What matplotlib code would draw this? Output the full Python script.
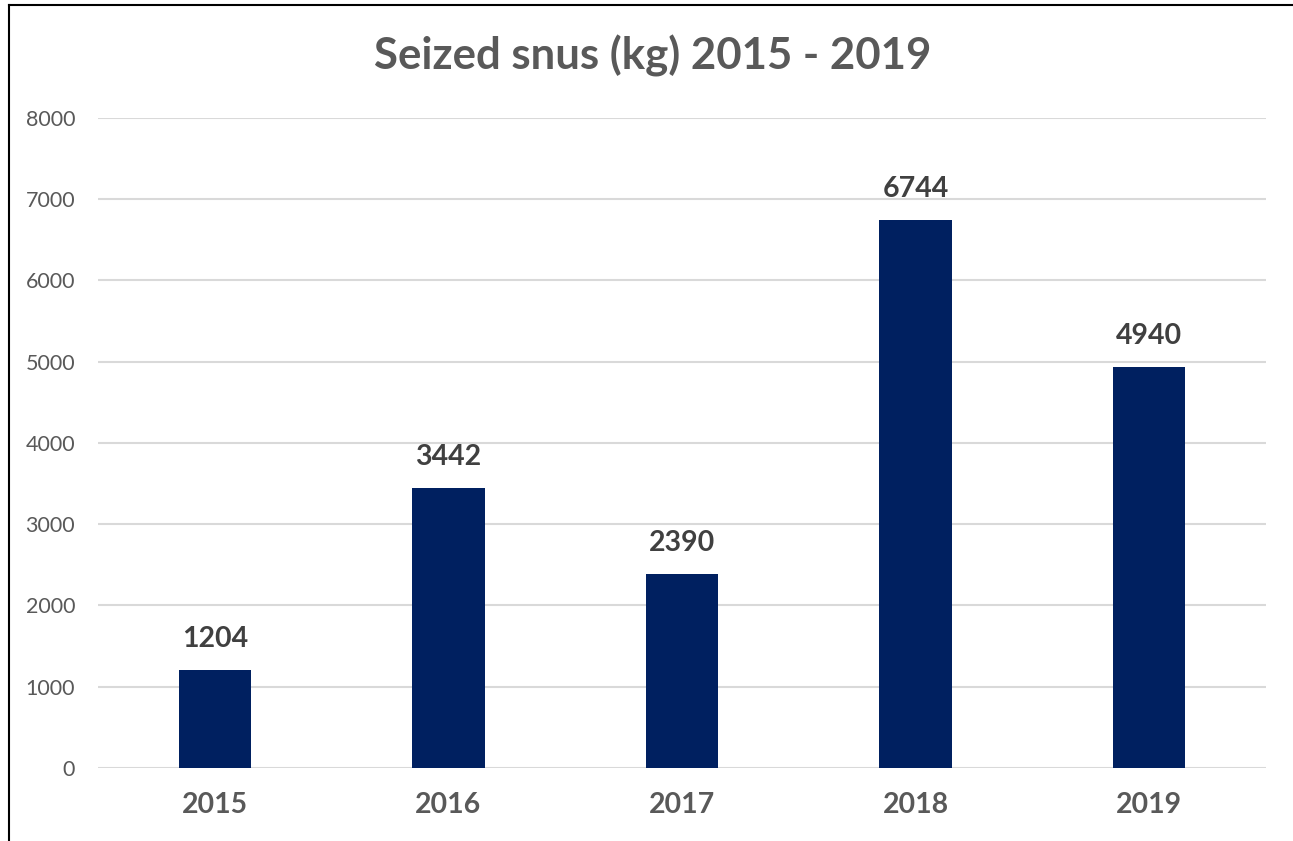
import matplotlib.pyplot as plt
from matplotlib.lines import Line2D

years = ["2015", "2016", "2017", "2018", "2019"]
seized_kg = [1204, 3442, 2390, 6744, 4940]
y_ticks = [0, 1000, 2000, 3000, 4000, 5000, 6000, 7000, 8000]

BAR_COLOR = "#002060"
TEXT_GRAY = "#595959"
LABEL_DARK = "#404040"

plt.rcParams["font.family"] = ["Lato", "DejaVu Sans"]

fig = plt.figure(figsize=(12.93, 8.41), dpi=100)
ax = fig.add_axes([0.0758, 0.0868, 0.979 - 0.0758, 0.8597 - 0.0868])

x = range(len(years))
bars = ax.bar(x, seized_kg, width=0.31, color=BAR_COLOR, zorder=3)

for rect, val in zip(bars, seized_kg):
    ax.annotate(str(val), (rect.get_x() + rect.get_width() / 2, val),
                xytext=(0, 13), textcoords="offset points",
                ha="center", va="bottom", fontsize=20.5, fontweight="bold",
                color=LABEL_DARK)

ax.set_xlim(-0.5, len(years) - 0.5)
ax.set_ylim(0, 8000)
ax.set_yticks(y_ticks)
ax.set_yticklabels([str(t) for t in y_ticks], fontsize=15.5, color=TEXT_GRAY)
ax.set_xticks(list(x))
ax.set_xticklabels(years, fontsize=20.5, fontweight="bold", color=TEXT_GRAY)
ax.tick_params(axis="y", length=0, pad=16.5)
ax.tick_params(axis="x", length=0, pad=17)
ax.grid(True, axis="y", color="#d9d9d9", linewidth=1.5, zorder=0)
for s in ax.spines.values():
    s.set_visible(False)

fig.suptitle("Seized snus (kg) 2015 - 2019", x=0.505, y=0.958,
             fontsize=31.5, fontweight="bold", color=TEXT_GRAY)

# outer chart border (left and top edges visible)
fig.add_artist(Line2D([0.0068, 0.0068], [0, 0.9935], color="black", linewidth=1.5))
fig.add_artist(Line2D([0.0068, 1.0], [0.9935, 0.9935], color="black", linewidth=1.5))

fig.savefig("out.png", dpi=100)
